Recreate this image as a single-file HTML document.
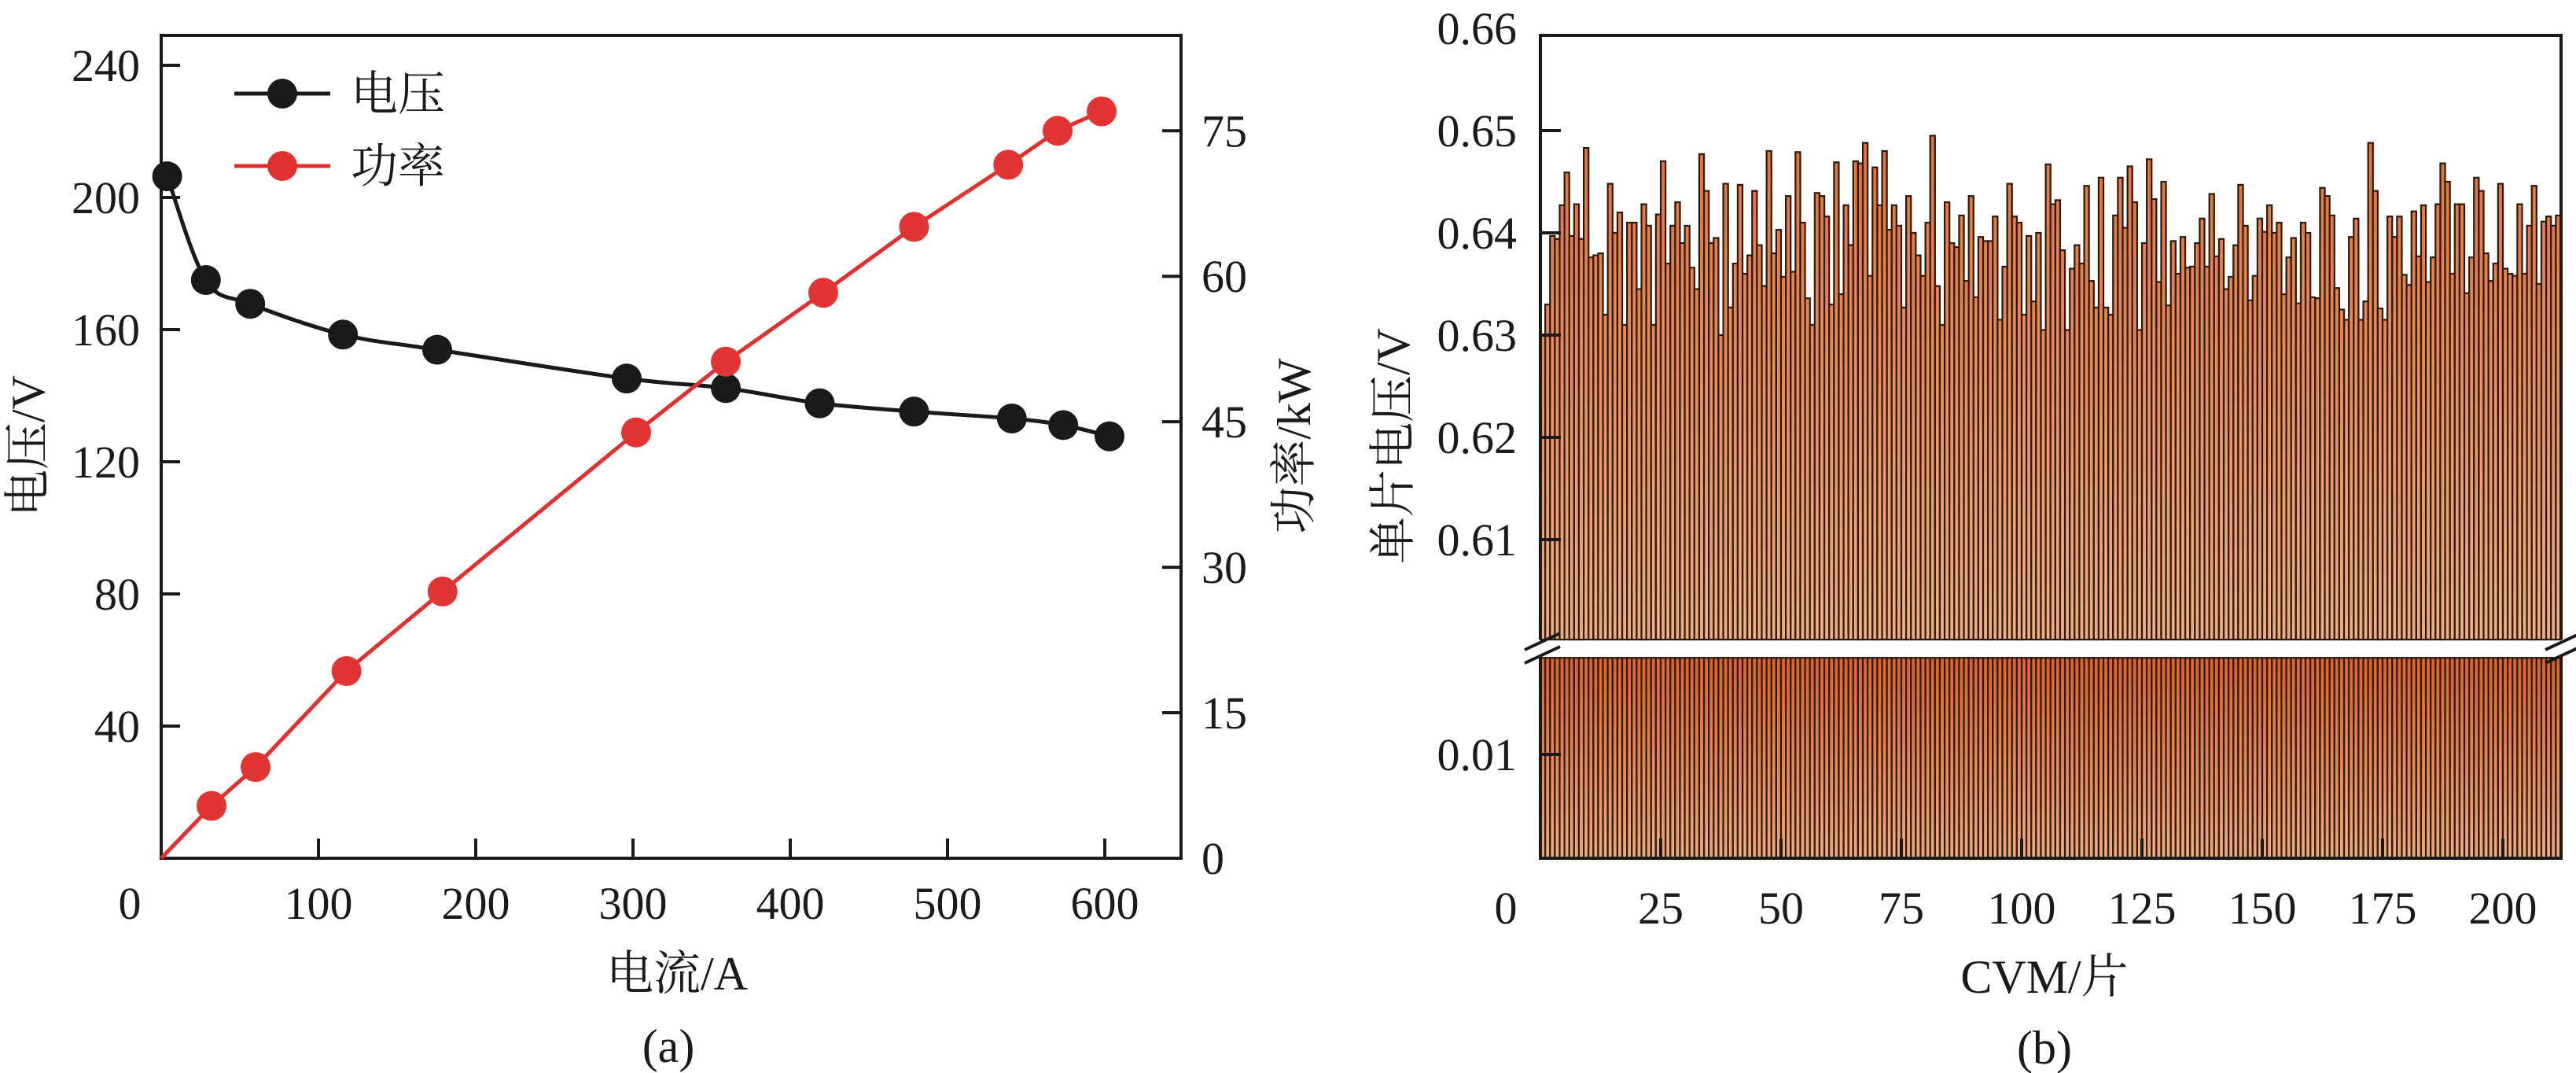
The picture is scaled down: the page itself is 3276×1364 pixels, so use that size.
<!DOCTYPE html>
<html><head><meta charset="utf-8"><style>
html,body{margin:0;padding:0;background:#fff;}
svg{display:block;}
text{font-family:"Liberation Serif","Noto Serif CJK SC",serif;fill:#1a1a1a;}
</style></head><body>
<svg id="fig" width="3276" height="1364" viewBox="0 0 3276 1364" xmlns="http://www.w3.org/2000/svg">
<defs>
<linearGradient id="gUp" gradientUnits="userSpaceOnUse" x1="0" y1="45" x2="0" y2="813"><stop offset="0" stop-color="#e0652a"/><stop offset="1" stop-color="#f0ad80"/></linearGradient>
<linearGradient id="gLo" gradientUnits="userSpaceOnUse" x1="0" y1="835" x2="0" y2="1091"><stop offset="0" stop-color="#de6228"/><stop offset="1" stop-color="#efa97a"/></linearGradient>
</defs>
<g id="plotA"></g>
<g id="plotB"></g>
</svg>
<script>
// ---- Chart (a) data ----
const vCurrent = [3.8, 28.4, 56.6, 115.6, 175.5, 296, 359, 418.7, 478.7, 540.9, 573.6, 603];
const vVoltage = [206.4, 175, 167.8, 158.5, 153.9, 145.2, 142.3, 137.7, 135.2, 133.1, 131.1, 127.7];
const pCurrent = [0, 32, 60, 117.8, 178.9, 302, 359, 421, 478.7, 538.6, 570, 598];
const pPower = [0, 5.4, 9.4, 19.3, 27.5, 43.9, 51.2, 58.3, 65.1, 71.5, 75.0, 77.0];
const xTicksA = [0, 100, 200, 300, 400, 500, 600];
const yTicksA = [40, 80, 120, 160, 200, 240];
const y2TicksA = [0, 15, 30, 45, 60, 75];
// ---- Chart (b) data ----
const cellVolt = [0.630,0.633,0.6397,0.6394,0.6427,0.6459,0.6397,0.6428,0.6394,0.6483,
0.6376,0.6378,0.638,0.632,0.6448,0.640,0.642,0.631,0.641,0.641,
0.6345,0.6428,0.6407,0.631,0.6418,0.647,0.637,0.6407,0.643,0.639,
0.6407,0.6366,0.6345,0.6477,0.6441,0.639,0.6395,0.630,0.6448,0.6327,
0.637,0.6447,0.636,0.6378,0.6441,0.6388,0.6348,0.648,0.638,0.6403,
0.6357,0.6436,0.6362,0.6479,0.641,0.6336,0.631,0.6439,0.6436,0.6416,
0.633,0.6469,0.634,0.6427,0.6388,0.647,0.6468,0.6488,0.6358,0.6464,
0.6427,0.648,0.6403,0.6427,0.6407,0.6327,0.6436,0.640,0.6378,0.6358,
0.641,0.6495,0.6348,0.631,0.643,0.639,0.6386,0.6417,0.6353,0.6436,
0.6337,0.6396,0.6392,0.6392,0.6416,0.6315,0.6367,0.6448,0.6416,0.641,
0.632,0.6397,0.6333,0.640,0.6305,0.6467,0.6428,0.6432,0.6383,0.6305,
0.6365,0.6388,0.637,0.6446,0.6353,0.6327,0.6454,0.6327,0.632,0.6417,
0.6454,0.6405,0.6465,0.643,0.6305,0.639,0.6472,0.6433,0.6352,0.645,
0.6329,0.6392,0.636,0.6396,0.6366,0.6367,0.639,0.6414,0.6367,0.6438,
0.6377,0.6394,0.6345,0.6357,0.6388,0.6447,0.6407,0.6334,0.6358,0.6414,
0.6401,0.6427,0.640,0.641,0.634,0.6376,0.6395,0.6331,0.641,0.640,
0.6337,0.6336,0.6444,0.6436,0.6417,0.6346,0.6325,0.6315,0.6396,0.6414,
0.6315,0.6333,0.6488,0.6441,0.6326,0.6315,0.6416,0.6396,0.6416,0.6359,
0.6349,0.6421,0.6377,0.6427,0.6352,0.6376,0.6428,0.6468,0.645,0.636,
0.6428,0.6428,0.6341,0.6376,0.6454,0.6441,0.638,0.6353,0.637,0.6448,
0.6365,0.636,0.6358,0.6428,0.636,0.6407,0.6446,0.635,0.6411,0.6416,0.6407,0.6417];
const xTicksB = [0, 25, 50, 75, 100, 125, 150, 175, 200];
const yTicksBUp = [0.61, 0.62, 0.63, 0.64, 0.65];
const yTicksBLo = [0.01];

const NS = "http://www.w3.org/2000/svg";
function mk(tag, attrs, parent, txt){const e=document.createElementNS(NS,tag);for(const k in attrs)e.setAttribute(k,attrs[k]);if(txt!==undefined)e.textContent=txt;parent.appendChild(e);return e;}

// ===== Chart (a) =====
const A = document.getElementById('plotA');
const aL=205,aR=1502,aT=45,aB=1091;
const xA = v => aL + v*2.0;
const yA = v => aB - v*4.2;
const y2A = v => aB - v*12.33;

let fr = mk('rect',{x:aL,y:aT,width:aR-aL,height:aB-aT,fill:'none',stroke:'#1a1a1a','stroke-width':4},A);


xTicksA.forEach(t=>{
  if(t>0){const l=mk('line',{x1:xA(t),x2:xA(t),y1:aB,y2:aB-25,stroke:'#1a1a1a','stroke-width':4},A);
  
  }
  const tx=mk('text',{x:t===0?xA(t)-40:xA(t),y:1168,'font-size':58,'text-anchor':'middle'},A,String(t));
  
  
});
yTicksA.forEach(t=>{
  const l=mk('line',{x1:aL,x2:aL+24,y1:yA(t),y2:yA(t),stroke:'#1a1a1a','stroke-width':4},A);
  
  
  const tx=mk('text',{x:178,y:yA(t)+20,'font-size':58,'text-anchor':'end'},A,String(t));
  
  
});
y2TicksA.forEach(t=>{
  if(t>0){const l=mk('line',{x1:aR,x2:aR-24,y1:y2A(t),y2:y2A(t),stroke:'#1a1a1a','stroke-width':4},A);
  
  }
  const tx=mk('text',{x:1528,y:y2A(t)+20,'font-size':58,'text-anchor':'start'},A,String(t));
  
  
});
let t1=mk('text',{x:861,y:1258,'font-size':60,'text-anchor':'middle'},A,'电流/A');


let t2=mk('text',{x:0,y:0,'font-size':60,'text-anchor':'middle',transform:'translate(56,567) rotate(-90)'},A,'电压/V');


let t3=mk('text',{x:0,y:0,'font-size':60,'text-anchor':'middle',transform:'translate(1666,567) rotate(-90)'},A,'功率/kW');


let t4=mk('text',{x:850,y:1350,'font-size':60,'text-anchor':'middle'},A,'(a)');



const vp = vCurrent.map((c,i)=>[xA(c),yA(vVoltage[i])]);
let d='M'+vp[0][0]+','+vp[0][1];
for(let i=0;i<vp.length-1;i++){
  const p0=vp[Math.max(0,i-1)],p1=vp[i],p2=vp[i+1],p3=vp[Math.min(vp.length-1,i+2)];
  const c1=[p1[0]+(p2[0]-p0[0])/6,p1[1]+(p2[1]-p0[1])/6];
  const c2=[p2[0]-(p3[0]-p1[0])/6,p2[1]-(p3[1]-p1[1])/6];
  d+=` C${c1[0]},${c1[1]} ${c2[0]},${c2[1]} ${p2[0]},${p2[1]}`;
}
let vl=mk('path',{d:d,fill:'none',stroke:'#1a1a1a','stroke-width':5},A);


let pl=mk('polyline',{points:pCurrent.map((c,i)=>xA(c)+','+y2A(pPower[i])).join(' '),fill:'none',stroke:'#e03030','stroke-width':5},A);


vp.forEach(p=>{
  const c=mk('circle',{cx:p[0],cy:p[1],r:19,fill:'#1a1a1a'},A);
  
  
});
pCurrent.forEach((cI,i)=>{
  if(i===0) return;
  const c=mk('circle',{cx:xA(cI),cy:y2A(pPower[i]),r:19,fill:'#e33434'},A);
  
  
});
const lg=mk('g',{},A);


[['电压','#1a1a1a',119],['功率','#e03030',211]].forEach(([lab,col,y])=>{
  mk('line',{x1:298,x2:420,y1:y,y2:y,stroke:col,'stroke-width':5},lg);
  mk('circle',{cx:359,cy:y,r:19,fill:col},lg);
  const t=mk('text',{x:446,y:y+21,'font-size':60},lg,lab);
  
  
});

// ===== Chart (b) =====
const B = document.getElementById('plotB');
const bL=1959,bR=3257,bT=45,bB=1091,gapTop=813,gapBot=835;
const xB = v => bL + v*6.12;
const yUp = v => 166 + (0.65 - v)*13000;
const yLo = v => bB - v*13200;
const bw = 6.12;
const bars=mk('g',{},B);


cellVolt.forEach((v,i)=>{
  const x = xB(i);
  const top = Math.max(bT, yUp(v));
  const r1=mk('rect',{x:x,y:top,width:bw,height:gapTop-top,fill:'url(#gUp)',stroke:'#2a1a0e','stroke-width':2.2},bars);
  
  
  const lt = Math.max(gapBot, yLo(Math.min(v,0.0193)));
  const r2=mk('rect',{x:x,y:lt,width:bw,height:bB-lt,fill:'url(#gLo)',stroke:'#2a1a0e','stroke-width':2.2},bars);
  
  
});
let fb=mk('path',{d:`M${bL},${gapTop} V${bT} H${bR} V${gapTop} M${bL},${gapBot} V${bB} H${bR} V${gapBot}`,fill:'none',stroke:'#1a1a1a','stroke-width':4},B);


[[bL],[bR]].forEach(([x])=>{
  const s1=mk('line',{x1:x-20,y1:826,x2:x+25,y2:805,stroke:'#1a1a1a','stroke-width':4},B);
  
  
  const s2=mk('line',{x1:x-20,y1:843,x2:x+25,y2:822,stroke:'#1a1a1a','stroke-width':4},B);
  
  
});
yTicksBUp.forEach(t=>{
  const l=mk('line',{x1:bL,x2:bL+26,y1:yUp(t),y2:yUp(t),stroke:'#1a1a1a','stroke-width':4},B);
  
  
  const tx=mk('text',{x:1929,y:yUp(t)+20,'font-size':58,'text-anchor':'end'},B,t.toFixed(2));
  
  
});
let top66=mk('text',{x:1929,y:yUp(0.66)+20,'font-size':58,'text-anchor':'end'},B,'0.66');


yTicksBLo.forEach(t=>{
  const l=mk('line',{x1:bL,x2:bL+26,y1:yLo(t),y2:yLo(t),stroke:'#1a1a1a','stroke-width':4},B);
  
  
  const tx=mk('text',{x:1929,y:yLo(t)+20,'font-size':58,'text-anchor':'end'},B,t.toFixed(2));
  
  
});
xTicksB.forEach(t=>{
  if(t>0){const l=mk('line',{x1:xB(t),x2:xB(t),y1:bB,y2:bB-25,stroke:'#1a1a1a','stroke-width':4},B);
  
  }
  const tx=mk('text',{x:t===0?1915:xB(t),y:1174,'font-size':58,'text-anchor':'middle'},B,String(t));
  
  
});
let b1=mk('text',{x:2600,y:1262,'font-size':60,'text-anchor':'middle'},B,'CVM/片');


let b2=mk('text',{x:0,y:0,'font-size':60,'text-anchor':'middle',transform:'translate(1792,567) rotate(-90)'},B,'单片电压/V');


let b3=mk('text',{x:2600,y:1352,'font-size':60,'text-anchor':'middle'},B,'(b)');


</script>
</body></html>
